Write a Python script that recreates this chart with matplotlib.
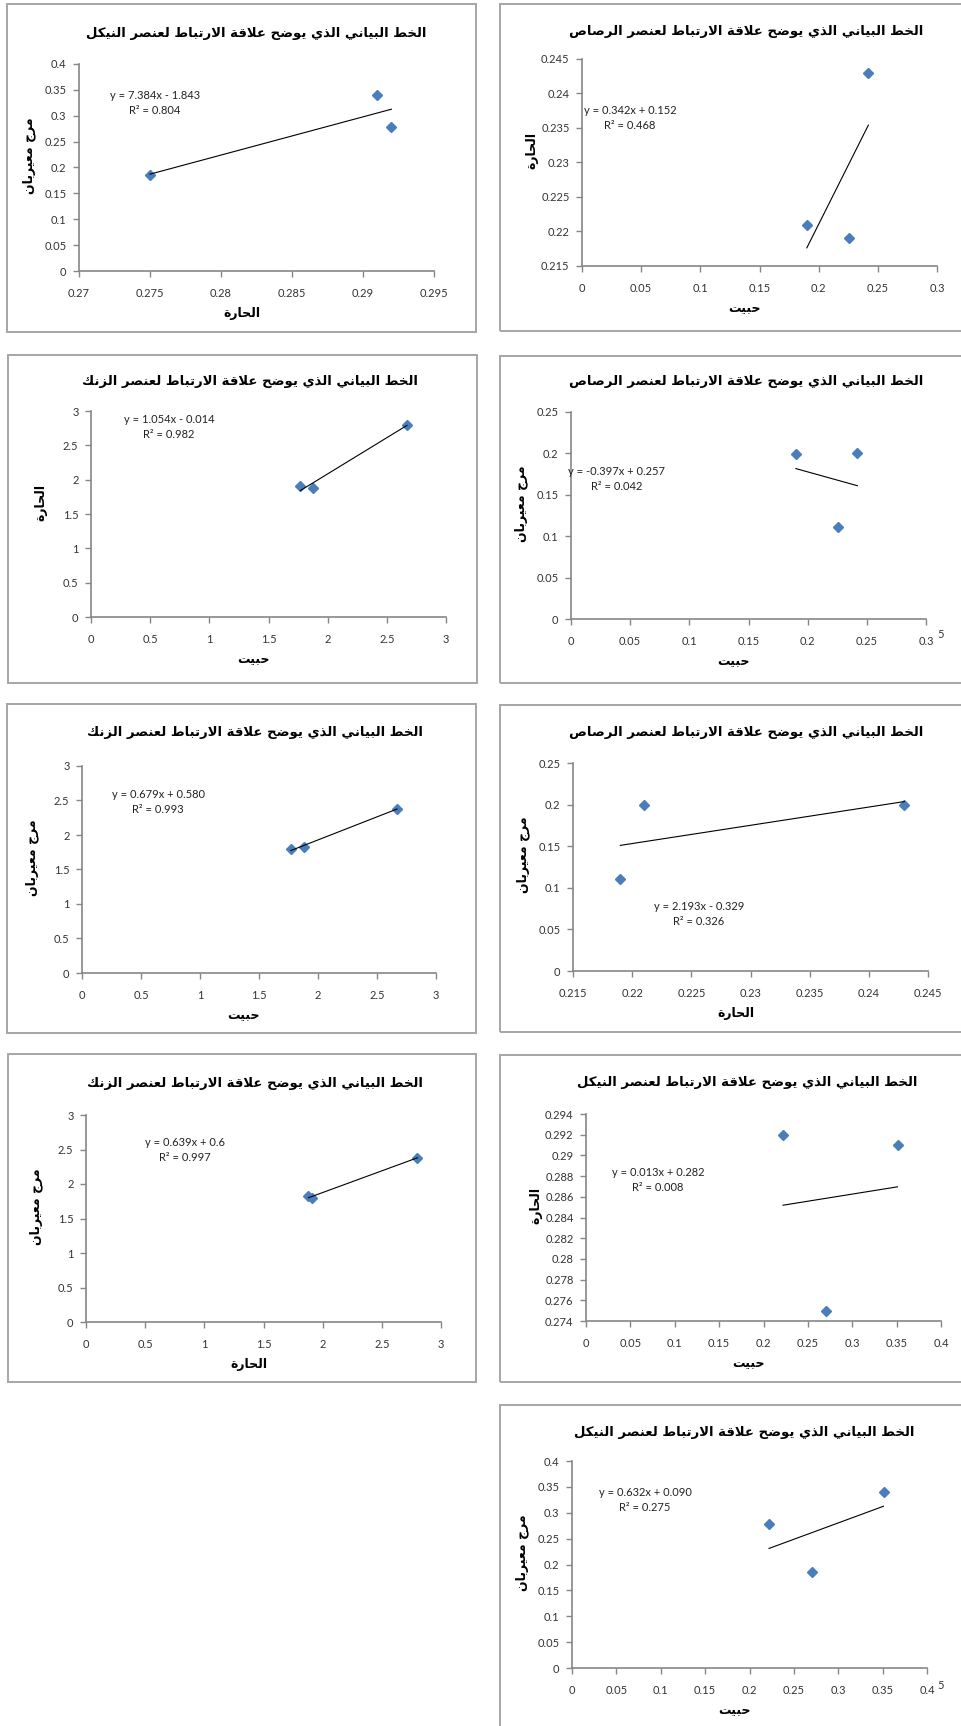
import numpy as np
import matplotlib
matplotlib.use('Agg')
import matplotlib.pyplot as plt
from matplotlib.patches import Rectangle

plt.rcParams['font.family'] = ['Lato', 'DejaVu Sans']

# measured values per element (حبيت / الحارة / مرج معيربان)
habeet_ni = [0.222, 0.270, 0.351]
harara_ni = [0.292, 0.275, 0.291]
marj_ni = [0.279, 0.185, 0.341]

habeet_pb = [0.190, 0.226, 0.242]
harara_pb = [0.221, 0.219, 0.243]
marj_pb = [0.199, 0.111, 0.200]

habeet_zn = [1.77, 1.88, 2.67]
harara_zn = [1.91, 1.88, 2.80]
marj_zn = [1.80, 1.82, 2.38]

title_ni = 'الخط البياني الذي يوضح علاقة الارتباط لعنصر النيكل'
title_pb = 'الخط البياني الذي يوضح علاقة الارتباط لعنصر الرصاص'
title_zn = 'الخط البياني الذي يوضح علاقة الارتباط لعنصر الزنك'
lbl_habeet = 'حبيت'
lbl_harara = 'الحارة'
lbl_marj = 'مرج معيربان'

eq_texts = ['y = 7.384x - 1.843\nR² = 0.804',
            'y = 0.342x + 0.152\nR² = 0.468',
            'y = 1.054x - 0.014\nR² = 0.982',
            'y = -0.397x + 0.257\nR² = 0.042',
            'y = 0.679x + 0.580\nR² = 0.993',
            'y = 2.193x - 0.329\nR² = 0.326',
            'y = 0.639x + 0.6\nR² = 0.997',
            'y = 0.013x + 0.282\nR² = 0.008',
            'y = 0.632x + 0.090\nR² = 0.275']

# isolated, final, initial, medial presentation forms
FORMS = {
    'ا': ('\uFE8D', '\uFE8E', None, None),
    'ب': ('\uFE8F', '\uFE90', '\uFE91', '\uFE92'),
    'ة': ('\uFE93', '\uFE94', None, None),
    'ت': ('\uFE95', '\uFE96', '\uFE97', '\uFE98'),
    'ج': ('\uFE9D', '\uFE9E', '\uFE9F', '\uFEA0'),
    'ح': ('\uFEA1', '\uFEA2', '\uFEA3', '\uFEA4'),
    'خ': ('\uFEA5', '\uFEA6', '\uFEA7', '\uFEA8'),
    'د': ('\uFEA9', '\uFEAA', None, None),
    'ذ': ('\uFEAB', '\uFEAC', None, None),
    'ر': ('\uFEAD', '\uFEAE', None, None),
    'ز': ('\uFEAF', '\uFEB0', None, None),
    'ص': ('\uFEB9', '\uFEBA', '\uFEBB', '\uFEBC'),
    'ض': ('\uFEBD', '\uFEBE', '\uFEBF', '\uFEC0'),
    'ط': ('\uFEC1', '\uFEC2', '\uFEC3', '\uFEC4'),
    'ع': ('\uFEC9', '\uFECA', '\uFECB', '\uFECC'),
    'ق': ('\uFED5', '\uFED6', '\uFED7', '\uFED8'),
    'ك': ('\uFED9', '\uFEDA', '\uFEDB', '\uFEDC'),
    'ل': ('\uFEDD', '\uFEDE', '\uFEDF', '\uFEE0'),
    'م': ('\uFEE1', '\uFEE2', '\uFEE3', '\uFEE4'),
    'ن': ('\uFEE5', '\uFEE6', '\uFEE7', '\uFEE8'),
    'و': ('\uFEED', '\uFEEE', None, None),
    'ي': ('\uFEF1', '\uFEF2', '\uFEF3', '\uFEF4'),
    'لا': ('\uFEFB', '\uFEFC', None, None),
}


def shape(text):
    toks = []
    i = 0
    while i < len(text):
        if text[i] == 'ل' and i + 1 < len(text) and text[i + 1] == 'ا':
            toks.append('لا')
            i += 2
        else:
            toks.append(text[i])
            i += 1
    res = []
    for k, t in enumerate(toks):
        f = FORMS.get(t)
        if f is None:
            res.append(t)
            continue
        prev = FORMS.get(toks[k - 1]) if k > 0 else None
        nxt = FORMS.get(toks[k + 1]) if k + 1 < len(toks) else None
        jp = prev is not None and prev[2] is not None
        jn = f[2] is not None and nxt is not None
        if jp and jn:
            res.append(f[3])
        elif jp:
            res.append(f[1])
        elif jn:
            res.append(f[2])
        else:
            res.append(f[0])
    return ''.join(reversed(res))


W, H = 961, 1726
fig = plt.figure(figsize=(W / 100, H / 100), dpi=100)

def fx(px):
    return px / W

def fy(py):
    return 1 - py / H

# frame boxes (x0, y0, x1, y1) in pixels
frames = [(7, 4, 476, 332), (500, 4, 965, 331),
          (8, 355, 477, 683), (500, 356, 965, 683),
          (7, 704, 476, 1033), (500, 705, 965, 1032),
          (8, 1054, 476, 1382), (500, 1055, 965, 1382),
          (500, 1405, 965, 1730)]
for x0, y0, x1, y1 in frames:
    fig.add_artist(Rectangle((fx(x0), fy(y1)), fx(x1) - fx(x0), fy(y0) - fy(y1),
                             transform=fig.transFigure, fill=False,
                             edgecolor='#a6a6a6', lw=1.4))

# panels: data, limits, labels, axes box (l, r, t, b) px, title center, equation center
panels = [
    dict(x=harara_ni, y=marj_ni, xl=(0.27, 0.295, 0.005), yl=(0, 0.4, 0.05),
         title=title_ni, xlab=lbl_harara, ylab=lbl_marj,
         box=(79, 434, 64, 271), tc=(256, 33), ec=(155, 103)),
    dict(x=habeet_pb, y=harara_pb, xl=(0, 0.3, 0.05), yl=(0.215, 0.245, 0.005),
         title=title_pb, xlab=lbl_habeet, ylab=lbl_harara,
         box=(582, 937, 59, 266), tc=(746, 32), ec=(630, 118)),
    dict(x=habeet_zn, y=harara_zn, xl=(0, 3, 0.5), yl=(0, 3, 0.5),
         title=title_zn, xlab=lbl_habeet, ylab=lbl_harara,
         box=(91, 446, 411, 617), tc=(250, 381), ec=(169, 427)),
    dict(x=habeet_pb, y=marj_pb, xl=(0, 0.3, 0.05), yl=(0, 0.25, 0.05),
         title=title_pb, xlab=lbl_habeet, ylab=lbl_marj,
         box=(571, 926, 412, 619), tc=(746, 382), ec=(617, 479)),
    dict(x=habeet_zn, y=marj_zn, xl=(0, 3, 0.5), yl=(0, 3, 0.5),
         title=title_zn, xlab=lbl_habeet, ylab=lbl_marj,
         box=(82, 436, 766, 973), tc=(255, 732), ec=(158, 802)),
    dict(x=harara_pb, y=marj_pb, xl=(0.215, 0.245, 0.005), yl=(0, 0.25, 0.05),
         title=title_pb, xlab=lbl_harara, ylab=lbl_marj,
         box=(573, 928, 763, 971), tc=(746, 732), ec=(699, 914)),
    dict(x=harara_zn, y=marj_zn, xl=(0, 3, 0.5), yl=(0, 3, 0.5),
         title=title_zn, xlab=lbl_harara, ylab=lbl_marj,
         box=(86, 441, 1115, 1322), tc=(255, 1083), ec=(185, 1150)),
    dict(x=habeet_ni, y=harara_ni, xl=(0, 0.4, 0.05), yl=(0.274, 0.294, 0.002),
         title=title_ni, xlab=lbl_habeet, ylab=lbl_harara,
         box=(586, 941, 1114, 1321), tc=(747, 1082), ec=(658, 1180)),
    dict(x=habeet_ni, y=marj_ni, xl=(0, 0.4, 0.05), yl=(0, 0.4, 0.05),
         title=title_ni, xlab=lbl_habeet, ylab=lbl_marj,
         box=(572, 927, 1461, 1668), tc=(744, 1432), ec=(645, 1500)),
]

axis_col = '#868686'
for p, eq in zip(panels, eq_texts):
    l, r, t, b = p['box']
    ax = fig.add_axes([fx(l), fy(b), fx(r) - fx(l), fy(t) - fy(b)])
    x = np.array(p['x'])
    y = np.array(p['y'])
    ax.plot(x, y, linestyle='none', marker='D', ms=4.6, color='#4a7ebb')
    k, c = np.polyfit(x, y, 1)
    xs = np.array([x.min(), x.max()])
    ax.plot(xs, k * xs + c, color='black', lw=0.8)

    x0, x1, dx = p['xl']
    y0, y1, dy = p['yl']
    ax.set_xlim(x0, x1)
    ax.set_ylim(y0, y1)
    xt = np.round(np.arange(x0, x1 + dx / 2, dx), 4)
    yt = np.round(np.arange(y0, y1 + dy / 2, dy), 4)
    ax.set_xticks(xt)
    ax.set_yticks(yt)
    ax.set_xticklabels([f'{v:g}' for v in xt])
    ax.set_yticklabels([f'{v:g}' for v in yt])
    for s in ['top', 'right']:
        ax.spines[s].set_visible(False)
    for s in ['left', 'bottom']:
        ax.spines[s].set_color(axis_col)
        ax.spines[s].set_linewidth(1.2)
    ax.tick_params(axis='both', direction='out', length=4, width=1,
                   color=axis_col, labelsize=8, labelcolor='#333333')
    ax.tick_params(axis='x', pad=8)
    ax.tick_params(axis='y', pad=5)
    ax.patch.set_alpha(0)

    fig.text(fx(p['tc'][0]), fy(p['tc'][1]), shape(p['title']), ha='center', va='center',
             fontsize=9.5, fontweight='bold', family='DejaVu Sans')
    fig.text(fx((l + r) / 2 - 15), fy(b + 42), shape(p['xlab']), ha='center', va='center',
             fontsize=9, fontweight='bold', family='DejaVu Sans')
    fig.text(fx(l - 50), fy((t + b) / 2 - 12), shape(p['ylab']), ha='center', va='center',
             rotation=90, fontsize=9, fontweight='bold', family='DejaVu Sans')
    fig.text(fx(p['ec'][0]), fy(p['ec'][1]), eq, ha='center', va='center',
             multialignment='center', fontsize=8, color='#222222', linespacing=1.4)

# stray digits next to the last x tick in two panels
fig.text(fx(941), fy(635), '5', ha='center', va='center', fontsize=8, color='#333333')
fig.text(fx(941), fy(1685), '5', ha='center', va='center', fontsize=8, color='#333333')

fig.savefig('out.png', dpi=100)
